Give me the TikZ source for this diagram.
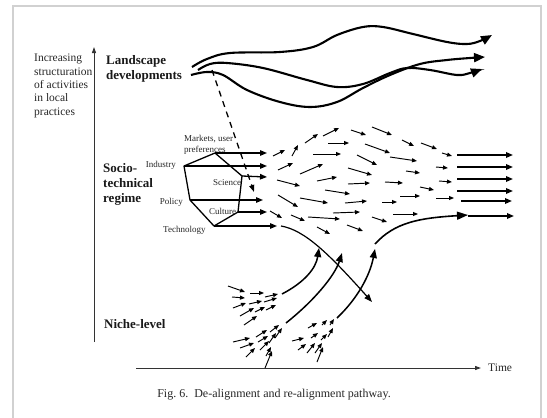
\documentclass[tikz,border=0pt]{standalone}
\usepackage{fontspec}
\setmainfont{Liberation Serif}
\usetikzlibrary{arrows.meta}
\begin{document}
\begin{tikzpicture}[x=1pt,y=-1pt,
  sarr/.style={line width=0.95pt, -{Triangle[length=5pt,width=4pt]}},
  rarr/.style={line width=1.6pt, -{Triangle[length=7pt,width=5.5pt]}},
  parr/.style={line width=1.3pt, -{Triangle[length=7pt,width=5.5pt]}},
  land/.style={line width=2.1pt, -{Triangle[length=11pt,width=9pt]}},
  niche/.style={line width=1.5pt, -{Triangle[length=9pt,width=7pt]}},
  axisline/.style={line width=1pt, black!80, -{Triangle[length=6pt,width=4pt]}},
  bigtxt/.style={font=\fontsize{13}{15}\selectfont\bfseries, inner sep=0pt, align=left, text=black!90},
  midtxt/.style={font=\fontsize{11.5}{13.3}\selectfont, inner sep=0pt, align=left, text=black!85},
  captxt/.style={font=\fontsize{12}{14}\selectfont, inner sep=0pt, text=black!85},
  smalltxt/.style={font=\fontsize{9}{11}\selectfont, inner sep=0pt, align=left, text=black!85}
]
\useasboundingbox (0,0) rectangle (547,418);
% frame
\draw[black!18, line width=1.5pt] (13,420) -- (13,6) -- (541,6) -- (541,420);

% axes
\coordinate (vbot) at (94,342);
\coordinate (vtop) at (94,47);
\coordinate (hleft) at (136,368);
\coordinate (hright) at (481,368);
\draw[axisline] (vbot) -- (vtop);
\draw[axisline] (hleft) -- (hright);
\node[midtxt, anchor=base west] (time) at (488,371) {Time};

% left texts
\node[midtxt, anchor=north west] (ylabel) at (34,54) {Increasing\\structuration\\of activities\\in local\\practices};
\node[bigtxt, anchor=north west] (landlbl) at (106,55) {Landscape\\developments};
\node[bigtxt, anchor=north west] (regimelbl) at (103,163) {Socio-\\technical\\regime};
\node[bigtxt, anchor=base west] (nichelbl) at (104,328) {Niche-level};

% caption
\node[captxt, anchor=base] (caption) at (274,397) {Fig.~6.\ \ De-alignment and re-alignment pathway.};

% landscape curves
\draw[land] plot[smooth, tension=0.6] coordinates {(192,67) (207,59) (230,53) (280,52) (313,47) (337,35) (363,27) (383,27) (413,34) (447,42) (467,44) (480,41) (492,35)};
\draw[land] plot[smooth, tension=0.6] coordinates {(198,70) (210,64) (227,63) (263,68) (307,80) (337,87) (363,84) (390,73) (407,68) (430,70) (457,75) (470,73) (482,69)};
\draw[land] plot[smooth, tension=0.6] coordinates {(191,75) (207,72) (223,75) (247,90) (280,102) (310,107) (337,102) (363,88) (390,75) (420,64) (447,60) (470,58) (485,57)};

% dashed influence
\coordinate (dstart) at (212,70);
\coordinate (dend) at (254,192);
\draw[line width=1.3pt, dash pattern=on 6pt off 5pt, -{Triangle[length=7pt,width=5pt]}] (dstart) -- (dend);

% polygon
\coordinate (ptop) at (215,153);
\coordinate (pul) at (184,166);
\coordinate (pll) at (190,200);
\coordinate (pbot) at (214,226);
\coordinate (plr) at (238,212);
\coordinate (pur) at (242,176);
\draw[line width=1.3pt, line join=round] (ptop) -- (pur) -- (plr) -- (pbot) -- (pll) -- (pul) -- cycle;

\node[smalltxt, anchor=north west] (markets) at (184,135) {Markets, user\\preferences};
\node[smalltxt, anchor=base east] (industry) at (176,167) {Industry};
\node[smalltxt, anchor=base] (science) at (227,185) {Science};
\node[smalltxt, anchor=base east] (policy) at (183,204) {Policy};
\node[smalltxt, anchor=base west] (culture) at (209,214) {Culture};
\node[smalltxt, anchor=base west] (technology) at (163,232) {Technology};

% polygon arrows
\coordinate (e1) at (267,153);
\coordinate (e2) at (267,166);
\coordinate (e3) at (267,177);
\coordinate (e4) at (263,200);
\coordinate (e5) at (267,212);
\coordinate (e6) at (277,226);
\draw[parr] (ptop) -- (e1);
\draw[parr] (pul) -- (e2);
\draw[parr] (pur) -- (e3);
\draw[parr] (pll) -- (e4);
\draw[parr] (plr) -- (e5);
\draw[parr] (pbot) -- (e6);

% field of small arrows
\foreach \xa/\ya/\xb/\yb in {
 273/156/285/150, 292/156/298/145, 305/143/318/134, 323/136/339/128,
 351/130/366/135, 372/127/392/135, 328/143/349/143, 365/144/390/153,
 313/154/341/154, 357/155/377/165, 278/170/293/163, 300/174/323/164,
 348/168/372/175, 277/180/300/186, 317/181/337/177, 348/184/370/183,
 385/182/403/183, 325/190/350/194, 278/195/298/207, 300/198/328/203,
 345/203/367/201, 382/202/397/202, 270/211/282/218, 291/215/305/221,
 308/217/340/219, 333/213/360/212, 372/217/387/222, 317/227/330/234,
 347/225/363/231, 402/140/414/146, 421/143/437/149, 442/153/452/156,
 390/157/417/161, 406/171/420/173, 436/167/448/168, 439/181/452/182,
 420/187/434/190, 400/196/420/196, 436/198/454/198, 393/214/418/214}
 \draw[sarr] (\xa,\ya) -- (\xb,\yb);

% long right arrows
\foreach \xa/\ya/\xb/\yb in {457/155/513/155, 457/167/513/167, 457/179/513/179,
 457/191/513/191, 461/201/512/201, 468/216/514/216}
 \draw[rarr] (\xa,\ya) -- (\xb,\yb);

% niche clusters
\foreach \xa/\ya/\xb/\yb in {
 228/286/245/292, 232/297/245/298, 250/293/264/293, 265/297/278/294,
 233/308/246/303, 249/304/262/301, 264/302/277/298, 240/316/254/308,
 255/312/265/307, 266/310/276/305, 244/325/257/316,
 233/342/250/338, 240/348/254/343, 246/357/255/348, 256/337/267/330,
 258/342/268/336, 260/350/269/341, 266/356/271/347, 269/343/276/333,
 270/332/279/325, 275/338/282/328, 265/368/272/351,
 292/341/304/338, 298/350/306/344, 308/328/317/323, 311/338/318/333,
 307/353/315/343, 315/353/322/343, 322/325/327/320, 321/340/327/334,
 330/325/334/319, 328/337/333/328, 317/362/323/347}
 \draw[sarr] (\xa,\ya) -- (\xb,\yb);

% niche trajectories
\coordinate (n1s) at (282,294); \coordinate (n1e) at (319,248);
\coordinate (n2s) at (286,323); \coordinate (n2e) at (342,253);
\coordinate (n3s) at (337,318); \coordinate (n3e) at (375,249);
\coordinate (n4s) at (375,244); \coordinate (n4e) at (468,215);
\draw[niche] (n1s) .. controls (305,282) and (316,268) .. (n1e);
\draw[niche] (n2s) .. controls (315,300) and (335,275) .. (n2e);
\draw[niche] (n3s) .. controls (358,298) and (370,275) .. (n3e);
\draw[line width=1.6pt, -{Triangle[length=11pt,width=8pt]}] (n4s) .. controls (395,222) and (420,218) .. (n4e);

% de-alignment curve
\coordinate (ds) at (281,226);
\coordinate (de) at (372,302);
\draw[line width=1.2pt, -{Triangle[length=8pt,width=6pt]}] (ds) .. controls (305,230) and (330,255) .. (de);
\end{tikzpicture}
\end{document}
